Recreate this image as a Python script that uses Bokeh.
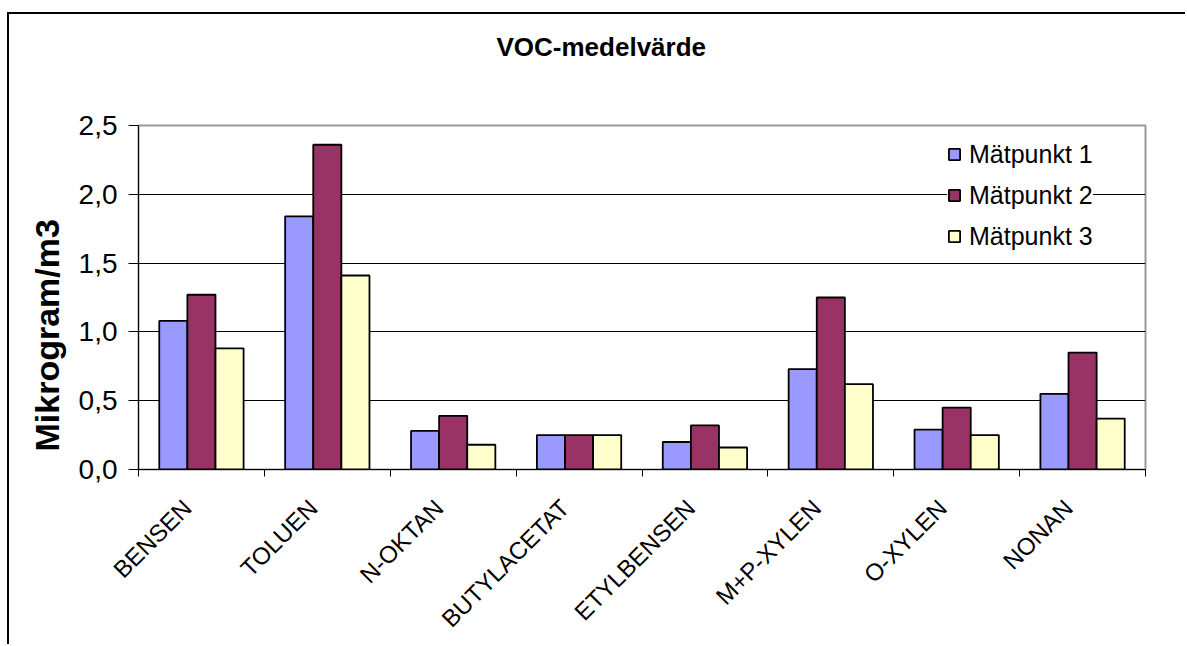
import math
from bokeh.plotting import figure
from bokeh.models import (ColumnDataSource, FixedTicker, Legend, LegendItem, Range1d)
from bokeh.transform import dodge
from bokeh.embed import file_html
from bokeh.resources import INLINE

# ---- data ----
categories = ["BENSEN", "TOLUEN", "N-OKTAN", "BUTYLACETAT", "ETYLBENSEN",
              "M+P-XYLEN", "O-XYLEN", "NONAN"]
series_names = ["Mätpunkt 1", "Mätpunkt 2", "Mätpunkt 3"]
matpunkt_1 = [1.08, 1.84, 0.28, 0.25, 0.20, 0.73, 0.29, 0.55]
matpunkt_2 = [1.27, 2.36, 0.39, 0.25, 0.32, 1.25, 0.45, 0.85]
matpunkt_3 = [0.88, 1.41, 0.18, 0.25, 0.16, 0.62, 0.25, 0.37]
y_ticks = [0.0, 0.5, 1.0, 1.5, 2.0, 2.5]
y_tick_labels = ["0,0", "0,5", "1,0", "1,5", "2,0", "2,5"]
title_text = "VOC-medelvärde"
y_axis_label = "Mikrogram/m3"

colors = ["#9999FF", "#993366", "#FFFFCC"]
FONT = "Liberation Sans"
NBSP = "\u00a0"

n = len(categories)
x_centers = [i + 0.5 for i in range(n)]
source = ColumnDataSource(dict(x=x_centers, m1=matpunkt_1, m2=matpunkt_2, m3=matpunkt_3))

p = figure(width=1178, height=632, x_range=Range1d(0, n), y_range=Range1d(0, 2.5),
           output_backend="svg", toolbar_location=None,
           min_border_left=129, min_border_right=42, min_border_top=111,
           min_border_bottom=177,
           title=title_text + "\n" + NBSP + "\n" + NBSP)
p.styles = {"margin-left": "7px", "margin-top": "12px",
            "border-left": "2px solid black", "border-top": "2px solid black"}
p.background_fill_color = "white"
p.border_fill_color = "white"
p.outline_line_color = "#999999"
p.outline_line_width = 2

p.title.text_font = FONT
p.title.text_font_size = "26px"
p.title.text_font_style = "bold"
p.title.text_color = "black"
p.title.align = "left"
p.title.offset = 358
p.title.standoff = 8

bw = 0.2233
offsets = [-bw, 0.0, bw]
keys = ["m1", "m2", "m3"]
renderers = []
for key, col, off in zip(keys, colors, offsets):
    r = p.vbar(x=dodge("x", off), top=key, width=bw, source=source,
               fill_color=col, line_color="black", line_width=1.8)
    renderers.append(r)

# x axis
p.xgrid.visible = False
p.xaxis.ticker = FixedTicker(ticks=x_centers, minor_ticks=list(range(0, n + 1)))
p.xaxis.major_label_overrides = {x: c + NBSP * 3 for x, c in zip(x_centers, categories)}
p.xaxis.major_tick_out = 0
p.xaxis.major_tick_in = 0
p.xaxis.minor_tick_out = 7
p.xaxis.minor_tick_in = 0
p.xaxis.minor_tick_line_color = "black"
p.xaxis.axis_line_color = "black"
p.xaxis.major_label_orientation = math.pi / 4
p.xaxis.major_label_text_font = FONT
p.xaxis.major_label_text_font_size = "24px"
p.xaxis.major_label_text_color = "black"
p.xaxis.major_label_standoff = 13

# y axis
p.yaxis.ticker = FixedTicker(ticks=y_ticks, minor_ticks=[])
p.yaxis.major_label_overrides = dict(zip(y_ticks, y_tick_labels))
p.yaxis.major_tick_out = 10
p.yaxis.major_tick_in = 0
p.yaxis.major_tick_line_color = "black"
p.yaxis.axis_line_color = "black"
p.yaxis.major_label_text_font = FONT
p.yaxis.major_label_text_font_size = "28px"
p.yaxis.major_label_text_color = "black"
p.yaxis.major_label_standoff = 11
p.yaxis.axis_label = y_axis_label + NBSP * 8
p.yaxis.axis_label_text_font = FONT
p.yaxis.axis_label_text_font_size = "34px"
p.yaxis.axis_label_text_font_style = "bold"
p.yaxis.axis_label_text_color = "black"
p.yaxis.axis_label_standoff = 10

p.ygrid.ticker = FixedTicker(ticks=y_ticks)
p.ygrid.grid_line_color = "black"
p.ygrid.grid_line_width = 1

legend = Legend(items=[LegendItem(label=nm, renderers=[r]) for nm, r in zip(series_names, renderers)],
                location=(809, 218.5), orientation="vertical",
                label_text_font=FONT, label_text_font_size="25px", label_text_color="black",
                glyph_width=14, glyph_height=14, label_standoff=8, spacing=12,
                padding=9, margin=0, label_height=28,
                border_line_color=None, background_fill_color="white",
                background_fill_alpha=1.0)
p.add_layout(legend)

open("out.html", "w").write(file_html(p, INLINE))
